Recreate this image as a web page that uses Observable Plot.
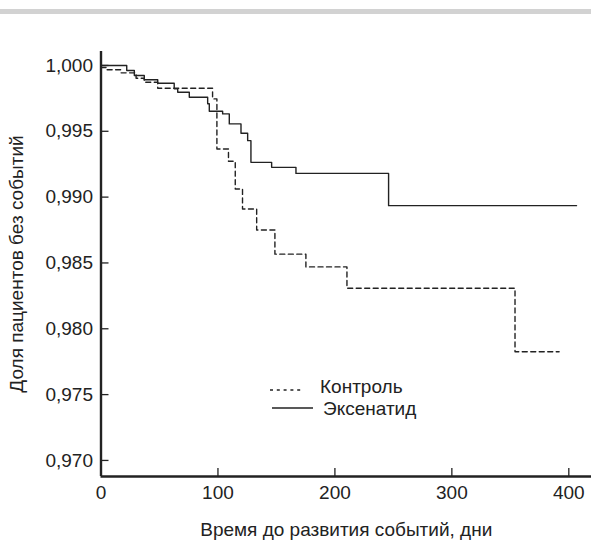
<!DOCTYPE html>
<html>
<head>
<meta charset="utf-8">
<script src="https://cdn.jsdelivr.net/npm/d3@7"></script>
<script src="https://cdn.jsdelivr.net/npm/@observablehq/plot@0.6"></script>
<style>
  html, body { margin: 0; padding: 0; background: #fff; }
  #wrap { position: relative; width: 591px; height: 542px; overflow: hidden; font-family: "Liberation Sans", Arial, sans-serif; }
  #topbar { position: absolute; left: 0; top: 9px; width: 591px; height: 5px; background: #d2d2d2; }
  #legend { position: absolute; left: 0; top: 0; font-size: 19px; color: #222; }
  #legend .row { position: absolute; white-space: nowrap; line-height: 1; }
  svg { display: block; }
</style>
</head>
<body>
<div id="wrap">
  <div id="chart"></div>
  <div id="topbar"></div>
  <div id="legend"></div>
</div>
<script>
// Control (dashed) Kaplan–Meier steps
const ctrlDays = [0, 4.3, 17, 30, 37, 48.5, 95.4, 99.1, 109, 114.8, 121, 133.1, 148.7, 175.2, 210.3, 354, 391.7];
const ctrlVals = [0.99985, 0.99967, 0.99944, 0.99903, 0.99873, 0.99827, 0.99746, 0.99366, 0.99272, 0.99062, 0.98910, 0.98750, 0.98567, 0.98470, 0.98308, 0.97826, 0.97826];

// Exenatide (solid) Kaplan–Meier steps
const exenDays = [0, 22, 28.5, 37, 48.5, 62.6, 65.6, 75.5, 91.2, 92.6, 104, 109.7, 119.7, 125.4, 128.2, 145.9, 166.7, 245.9, 406.6];
const exenVals = [1.000, 0.99962, 0.99924, 0.99891, 0.99865, 0.99823, 0.99797, 0.99759, 0.99709, 0.99652, 0.99632, 0.99556, 0.99485, 0.99429, 0.99264, 0.99226, 0.99180, 0.98935, 0.98935];

const xTicks = [0, 100, 200, 300, 400];
const yTicks = [0.970, 0.975, 0.980, 0.985, 0.990, 0.995, 1.000];
const xDomain = [0, 419.4];
const yDomain = [0.96878, 1.00106];

const seriesNames = ["Контроль", "Эксенатид"];
const xLabel = "Время до развития событий, дни";
const yLabel = "Доля пациентов без событий";

const ctrl = ctrlDays.map((d, i) => ({day: d, val: ctrlVals[i]}));
const exen = exenDays.map((d, i) => ({day: d, val: exenVals[i]}));
const fmt = v => v.toFixed(3).replace(".", ",");

const ink = "#222";
const fs = 19;
const chart = Plot.plot({
  width: 591,
  height: 542,
  marginLeft: 100.5,
  marginRight: 0,
  marginTop: 51,
  marginBottom: 66,
  style: {fontFamily: "Liberation Sans, Arial, sans-serif", fontSize: fs + "px", color: ink, background: "transparent", overflow: "visible"},
  x: {domain: xDomain},
  y: {domain: yDomain},
  marks: [
    // tick labels
    Plot.axisY(yTicks, {tickSize: 0, tickPadding: 8, tickFormat: fmt, label: null, fontSize: fs, fill: ink}),
    Plot.axisX(xTicks, {tickSize: 0, tickPadding: 9, tickFormat: d => String(d), label: null, fontSize: fs, fill: ink}),
    // inward ticks
    Plot.axisY(yTicks, {tickSize: 8, dx: 8, tickFormat: () => "", label: null, stroke: ink, strokeWidth: 1.3}),
    Plot.axisX(xTicks, {tickSize: 8, dy: -8, tickFormat: () => "", label: null, stroke: ink, strokeWidth: 1.3}),
    // curves
    Plot.line(ctrl, {x: "day", y: "val", curve: "step-after", stroke: ink, strokeWidth: 1.4, strokeDasharray: "5,3.5"}),
    Plot.line(exen, {x: "day", y: "val", curve: "step-after", stroke: ink, strokeWidth: 1.4}),
    // axis lines
    Plot.ruleX([xDomain[0]], {stroke: ink, strokeWidth: 2.4}),
    Plot.ruleY([yDomain[0]], {stroke: ink, strokeWidth: 2.4}),
    // axis titles
    Plot.text([xLabel], {frameAnchor: "bottom", dy: 59, fontSize: fs, fill: ink, text: d => d}),
    Plot.text([yLabel], {frameAnchor: "left", textAnchor: "middle", dx: -84, rotate: -90, fontSize: fs, fill: ink, text: d => d})
  ]
});
document.getElementById("chart").appendChild(chart);

// legend
const legend = document.getElementById("legend");
legend.innerHTML = `
  <svg width="591" height="542" style="position:absolute;left:0;top:0">
    <line x1="270" x2="304" y1="390" y2="390" stroke="${ink}" stroke-width="1.3" stroke-dasharray="3,3.8"/>
    <line x1="272" x2="313" y1="408" y2="408" stroke="${ink}" stroke-width="1.4"/>
  </svg>
  <div class="row" style="left:320px;top:377px">${seriesNames[0]}</div>
  <div class="row" style="left:323px;top:399px">${seriesNames[1]}</div>`;
</script>
</body>
</html>
